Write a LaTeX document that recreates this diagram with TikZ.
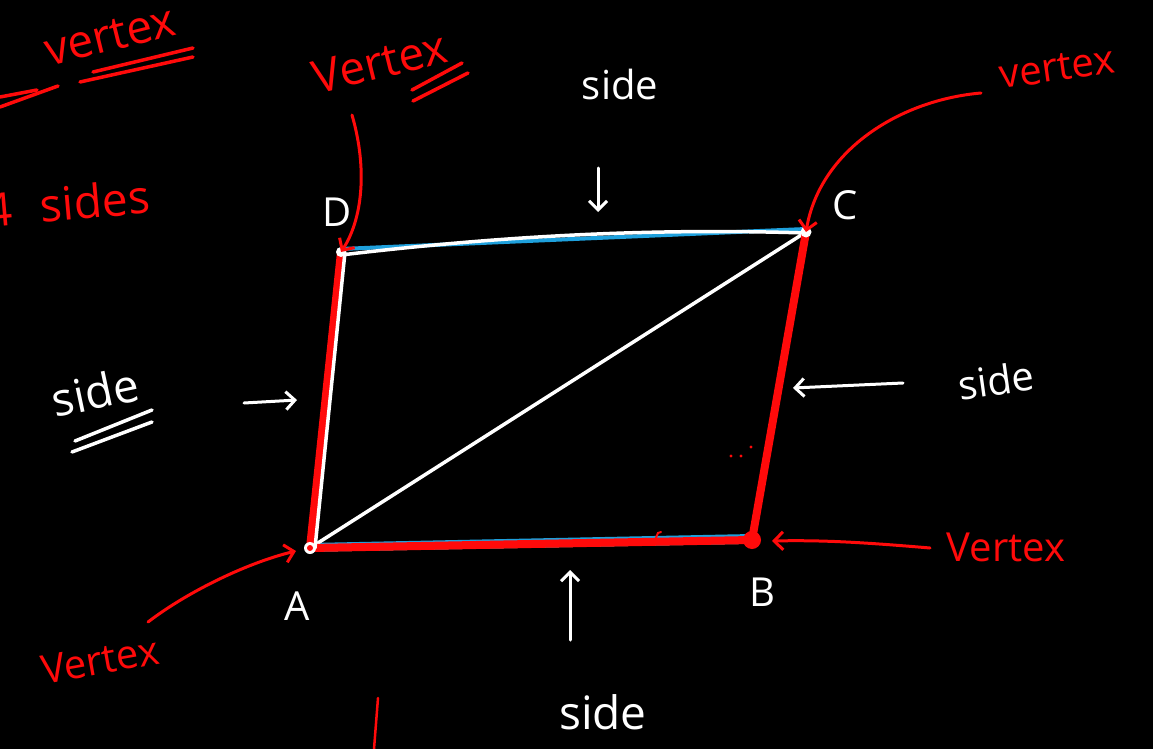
\documentclass[tikz,border=0pt]{standalone}
\usepackage{fontspec}
\setmainfont{Open Sans}
\usetikzlibrary{arrows.meta}
\definecolor{chalkred}{HTML}{FF0A0A}
\definecolor{chalkblue}{HTML}{1EA0DC}
\begin{document}
\begin{tikzpicture}[x=1pt,y=-1pt,
  lbl/.style={font=\fontsize{40}{44}\selectfont, inner sep=0pt},
  biglbl/.style={font=\fontsize{46}{50}\selectfont, inner sep=0pt},
  redtxt/.style={lbl, text=chalkred},
  whitetxt/.style={lbl, text=white},
  tip/.style={-{Straight Barb[length=9pt,width=18pt,line width=3pt]}},
  redarrow/.style={draw=chalkred, line width=3pt, line cap=round, tip},
  whitearrow/.style={draw=white, line width=3pt, line cap=round, tip},
  redside/.style={draw=chalkred, line width=8pt, line cap=round},
  whiteline/.style={draw=white, line width=3.5pt, line cap=round},
  blueline/.style={draw=chalkblue, line width=4pt, line cap=round},
  underline/.style={line width=3.5pt, line cap=round},
]
\fill[black] (0,0) rectangle (1153,749);
\useasboundingbox (0,0) rectangle (1153,749);

% vertices
\coordinate (A) at (310,548);
\coordinate (B) at (752,540);
\coordinate (C) at (806,232);
\coordinate (D) at (341,252);

% sides
\draw[blueline] ([yshift=3pt]A) -- ([yshift=4pt]B);
\draw[whiteline] ([yshift=-2pt]A) -- ([yshift=-2pt]B);
\draw[blueline] ([yshift=3pt]D) -- ([yshift=3pt]C);
\draw[whiteline] ([yshift=-3pt]D) .. controls (500,236) and (650,228) .. ([yshift=-1pt]C);
\draw[whiteline] (A) -- (C);
\draw[redside] (A) -- (B);
\draw[redside] (A) -- (D);
\draw[whiteline] ([xshift=5pt]A) -- ([xshift=4pt]D);
\draw[redside] (B) -- (C);
\fill[chalkred] (B) circle (9pt);
\fill[white] (D) circle (5pt);
\fill[white] (C) circle (5.5pt);
\fill[white] (A) circle (6pt);
\fill[chalkred] (A) circle (3pt);

% vertex letters
\node[whitetxt] (lD) at (337,212) {D};
\node[whitetxt] (lC) at (845,205) {C};
\node[whitetxt] (lA) at (297,606) {A};
\node[whitetxt] (lB) at (762,592) {B};

% top-left fragments
\node[redtxt, biglbl, rotate=14] (tv) at (110,36) {vertex};
\draw[chalkred, underline] (80,82) -- (193,57);
\draw[chalkred, underline] (93,72) -- (193,48);
\draw[chalkred, underline] (0,107) -- (58,86);
\draw[chalkred, underline] (0,97) -- (37,90);
\node[redtxt, biglbl, rotate=5, anchor=west] (sides) at (-14,210) {4\hspace{28pt}sides};

% vertex near D
\node[redtxt, biglbl, rotate=14] (vD) at (380,62) {Vertex};
\draw[chalkred, underline] (413,101) -- (468,73);
\draw[chalkred, underline] (412,90) -- (462,63);
\draw[redarrow] (352,115) .. controls (368,170) and (362,220) .. (D);

% top side
\node[whitetxt] (sT) at (620,85) {side};
\draw[whitearrow] (598,168) -- (598,212);

% vertex top-right
\node[redtxt, rotate=8] (vC) at (1057,68) {vertex};
\draw[redarrow] (981,93) .. controls (900,100) and (820,150) .. (C);

% left side label
\node[whitetxt, biglbl, rotate=12] (sL) at (95,392) {side};
\draw[white, underline] (72,452) -- (152,422);
\draw[white, underline] (75,441) -- (152,410);
\draw[whitearrow] (244,403) -- (297,400);

% right side label
\node[whitetxt, rotate=8] (sR) at (996,380) {side};
\draw[whitearrow] (903,383) -- (793,388);

% vertex right (B)
\node[redtxt] (vB) at (1006,547) {Vertex};
\draw[redarrow] (930,548) .. controls (860,542) and (820,540) .. (772,541);

% vertex bottom-left (A)
\node[redtxt, rotate=10] (vA) at (100,660) {Vertex};
\draw[redarrow] (148,622) .. controls (190,590) and (250,562) .. (296,551);

% bottom side
\node[whitetxt, biglbl] (sB) at (603,712) {side};
\draw[whitearrow] (570,640) -- (570,570);

% small marks
\draw[chalkred, line width=2.5pt, line cap=round] (378,698) -- (374,749);
\fill[chalkred] (731,456) circle (1.6pt);
\fill[chalkred] (741,456) circle (1.6pt);
\fill[chalkred] (751,447) circle (1.6pt);
\fill[chalkred] (771,428) circle (1.4pt);
\draw[chalkred, line width=2pt, line cap=round] (655,540) -- (658,533) -- (661,532);
\end{tikzpicture}
\end{document}
